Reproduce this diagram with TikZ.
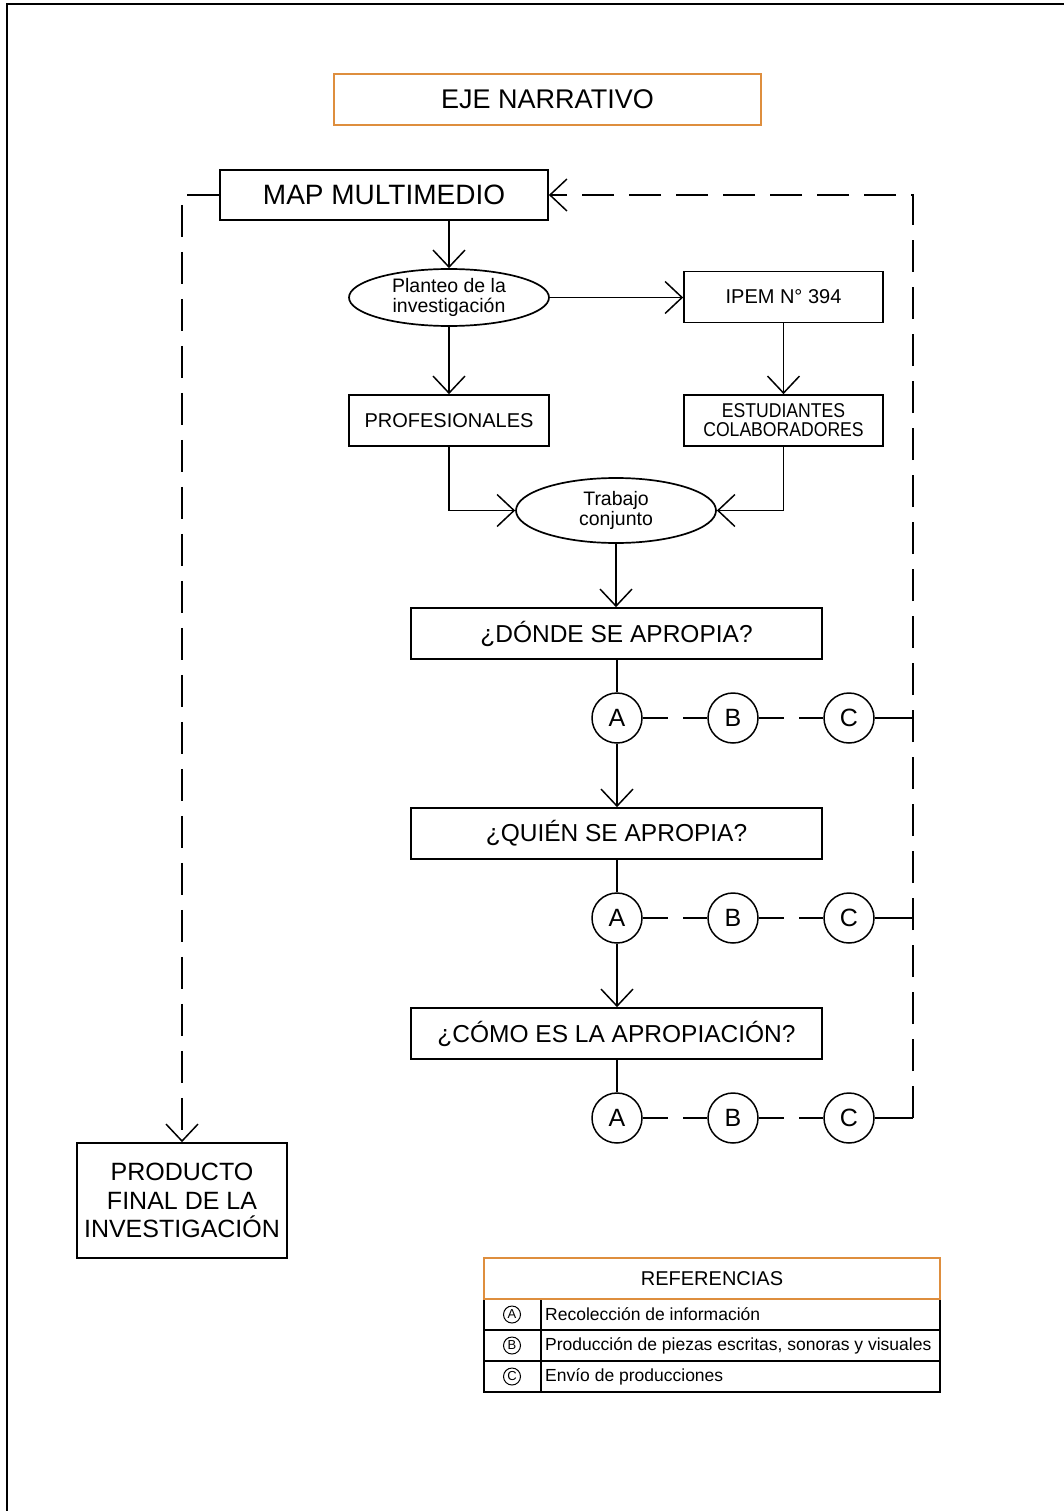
\documentclass[tikz,border=0pt]{standalone}
\usepackage{fontspec}
\setmainfont{Liberation Sans}
\newfontfamily\narrowsans[FakeStretch=0.88]{Liberation Sans}
\usepackage{tikz}
\usetikzlibrary{positioning, arrows.meta, shapes.geometric}
\definecolor{ejeorange}{RGB}{222, 142, 62}
\newcommand{\fs}[2]{\fontsize{#1}{#2}\selectfont}

\begin{document}
\begin{tikzpicture}[
  x=1pt, y=-1pt,
  caja/.style={draw, line width=1.7pt, rectangle, inner sep=0pt, align=center},
  elipse/.style={draw, line width=1.7pt, ellipse, inner sep=0pt, align=center, minimum width=200, font=\fs{19.5}{19.5}},
  pregunta/.style={caja, minimum width=411, minimum height=51, font=\fs{24.5}{26}},
  letra/.style={draw, line width=1.5pt, circle, minimum size=50, inner sep=0pt, font=\fs{25}{25}},
  flecha/.style={line width=1.5pt, -{Straight Barb[length=17pt, width=32pt]}},
  linea/.style={line width=1.5pt},
  tramo/.style={line width=1.5pt, dash pattern=on 25.5pt off 15pt},
  retorno/.style={line width=1.5pt, dash pattern=on 32pt off 15pt},
  refletra/.style={draw, line width=1pt, circle, minimum size=17, inner sep=0pt, font=\fs{13}{13}},
  reftexto/.style={anchor=west, inner sep=0pt, font=\fs{17.5}{18}},
]
\useasboundingbox (0,0) rectangle (1064,1511);

% page edge
\draw[line width=2.5pt] (7,1511) -- (7,4) -- (1064,4);

% ==================== titulo ====================
\node[caja, draw=ejeorange, minimum width=427, minimum height=51, font=\fs{27}{28}] (eje) at (547.5,99.5) {EJE NARRATIVO};
\node[caja, minimum width=328, minimum height=50, font=\fs{28}{28}] (map) at (384,195) {MAP MULTIMEDIO};

% ==================== planteo ====================
\node[elipse, minimum height=57] (planteo) at (449,297.5) {Planteo de la\\investigación};
\node[caja, minimum width=199, minimum height=51, font=\fs{20}{20}] (ipem) at (783.5,297) {IPEM N° 394};
\node[caja, minimum width=200, minimum height=51, font=\fs{20}{20}] (prof) at (449,420.5) {PROFESIONALES};
\node[caja, minimum width=199, minimum height=51, font=\narrowsans\fs{20}{19}] (estud) at (783.5,420.5) {ESTUDIANTES\\COLABORADORES};
\node[elipse, minimum height=65] (trabajo) at (616,510.5) {Trabajo\\conjunto};

\draw[flecha] (planteo.north |- map.south) -- (planteo.north);
\draw[flecha] (planteo.east) -- (planteo.east -| ipem.west);
\draw[flecha] (planteo.south) -- (prof.north);
\draw[flecha] (ipem.south) -- (estud.north);
\draw[flecha] (prof.south) |- (trabajo.west);
\draw[flecha] (estud.south) |- (trabajo.east);

% ==================== preguntas ====================
\node[pregunta] (donde) at (616.5,633.5) {¿DÓNDE SE APROPIA?};
\node[pregunta] (quien) at (616.5,833.5) {¿QUIÉN SE APROPIA?};
\node[pregunta] (como) at (616.5,1033.5) {¿CÓMO ES LA APROPIACIÓN?};

\foreach \n/\y in {1/718, 2/918, 3/1118} {
  \node[letra] (a\n) at (617,\y) {A};
  \node[letra] (b\n) at (733,\y) {B};
  \node[letra] (c\n) at (849,\y) {C};
  \draw[tramo] (a\n.east) -- (b\n.west);
  \draw[tramo] (b\n.east) -- (c\n.west);
}

\draw[flecha] (trabajo.south) -- (trabajo.south |- donde.north);
\draw[linea] (a1.north |- donde.south) -- (a1.north);
\draw[flecha] (a1.south) -- (a1.south |- quien.north);
\draw[linea] (a2.north |- quien.south) -- (a2.north);
\draw[flecha] (a2.south) -- (a2.south |- como.north);
\draw[linea] (a3.north |- como.south) -- (a3.north);

% ==================== retorno ====================
\coordinate (rtop) at (913,195);
\coordinate (rbot) at (913,1118);
\draw[linea] (c1.east) -- (c1.east -| rbot);
\draw[linea] (c2.east) -- (c2.east -| rbot);
\draw[linea] (c3.east) -- (rbot);
\draw[retorno, -{Straight Barb[length=17pt, width=32pt]}] (rbot) -- (rtop) -- (map.east);

% ==================== producto final ====================
\node[caja, minimum width=210, minimum height=115, font=\fs{25}{28.5}] (prod) at (182,1200.5) {PRODUCTO\\FINAL DE LA\\INVESTIGACIÓN};
\draw[retorno, -{Straight Barb[length=17pt, width=32pt]}] (map.west) -| (prod.north);

% ==================== referencias ====================
\draw[line width=1.7pt] (484,1299) rectangle (940,1392);
\draw[line width=1.5pt] (484,1330) -- (940,1330) (484,1361) -- (940,1361) (541,1299) -- (541,1392);
\node[caja, draw=ejeorange, minimum width=456, minimum height=41, font=\fs{20}{20}] (refs) at (712,1278.5) {REFERENCIAS};
\node[refletra] (ra) at (512,1314.5) {A};
\node[refletra] (rb) at (512,1345.5) {B};
\node[refletra] (rc) at (512,1376.5) {C};
\node[reftexto] (ta) at (545,1314.5) {Recolección de información};
\node[reftexto] (tb) at (545,1345.5) {Producción de piezas escritas, sonoras y visuales};
\node[reftexto] (tc) at (545,1376.5) {Envío de producciones};

\end{tikzpicture}
\end{document}
